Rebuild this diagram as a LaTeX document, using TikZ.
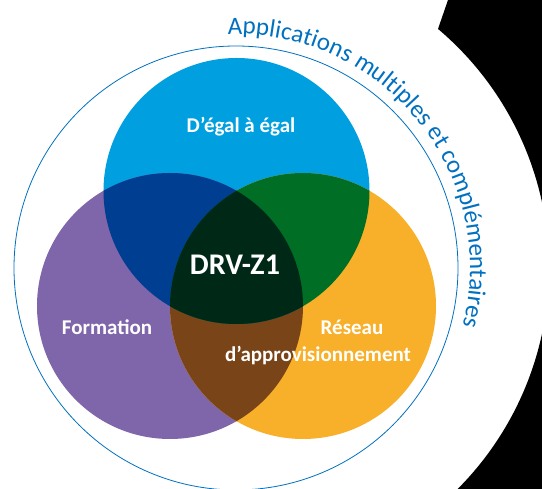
\documentclass[tikz,border=0pt]{standalone}
\usepackage{fontspec}
\setmainfont{Carlito}
\usetikzlibrary{decorations.text}

\definecolor{egalblue}{RGB}{0,160,224}
\definecolor{formpurple}{RGB}{127,101,169}
\definecolor{resorange}{RGB}{248,175,41}
\definecolor{navyover}{RGB}{0,62,146}
\definecolor{greenover}{RGB}{0,110,36}
\definecolor{brownover}{RGB}{122,68,25}
\definecolor{coreover}{RGB}{0,40,23}
\definecolor{ringblue}{RGB}{0,112,192}

\begin{document}
\begin{tikzpicture}[x=1pt,y=1pt,
		venntext/.style={text=white,font=\bfseries\fontsize{21}{25}\selectfont,inner sep=0pt}]
		\useasboundingbox (0,0) rectangle (542,489);
		
		%Centres
		\coordinate (c) at (236,221);
		\coordinate (egal) at (236.5,298);
		\coordinate (form) at (170,183);
		\coordinate (res) at (303,183);
		
		%Black corner
		\begin{scope}
			\clip (0,0) rectangle (542,489);
			\fill[black] (448,489) -- ([shift={(49.8:313)}]c) arc[start angle=49.8,end angle=-45,radius=313] -- (560,-2) -- (560,489) -- cycle;
		\end{scope}
		
		%Outer ring
		\draw[ringblue,line width=0.8] (c) circle[radius=222];
		
		%Circles
		\fill[egalblue] (egal) circle[radius=133];
		\fill[formpurple] (form) circle[radius=133];
		\fill[resorange] (res) circle[radius=133];
		
		%Overlaps
		\begin{scope}
			\clip (form) circle[radius=133];
			\fill[brownover] (res) circle[radius=133];
		\end{scope}
		\begin{scope}
			\clip (egal) circle[radius=133];
			\fill[navyover] (form) circle[radius=133];
			\fill[greenover] (res) circle[radius=133];
			\clip (form) circle[radius=133];
			\fill[coreover] (res) circle[radius=133];
		\end{scope}
		
		%Text on ring
		\path[decorate,decoration={text along path,text align=left,text color=ringblue,
			text={|\fontsize{25}{30}\selectfont|Applications multiples et complémentaires}}]
		([shift={(92:234)}]c) arc[start angle=92,end angle=-20,radius=234];
		
		% Text Node
		\node[venntext] (egallabel) at (241,362) {D’égal à égal};
		% Text Node
		\node[venntext,font=\bfseries\fontsize{30}{36}\selectfont] (core) at (235,224) {DRV-Z1};
		% Text Node
		\node[venntext] (formlabel) at (107,162) {Formation};
		% Text Node
		\node[venntext] (reslabel) at (352,162) {Réseau};
		% Text Node
		\node[venntext] (reslabeltwo) at (318,133) {d’approvisionnement};
		
	\end{tikzpicture}
\end{document}
